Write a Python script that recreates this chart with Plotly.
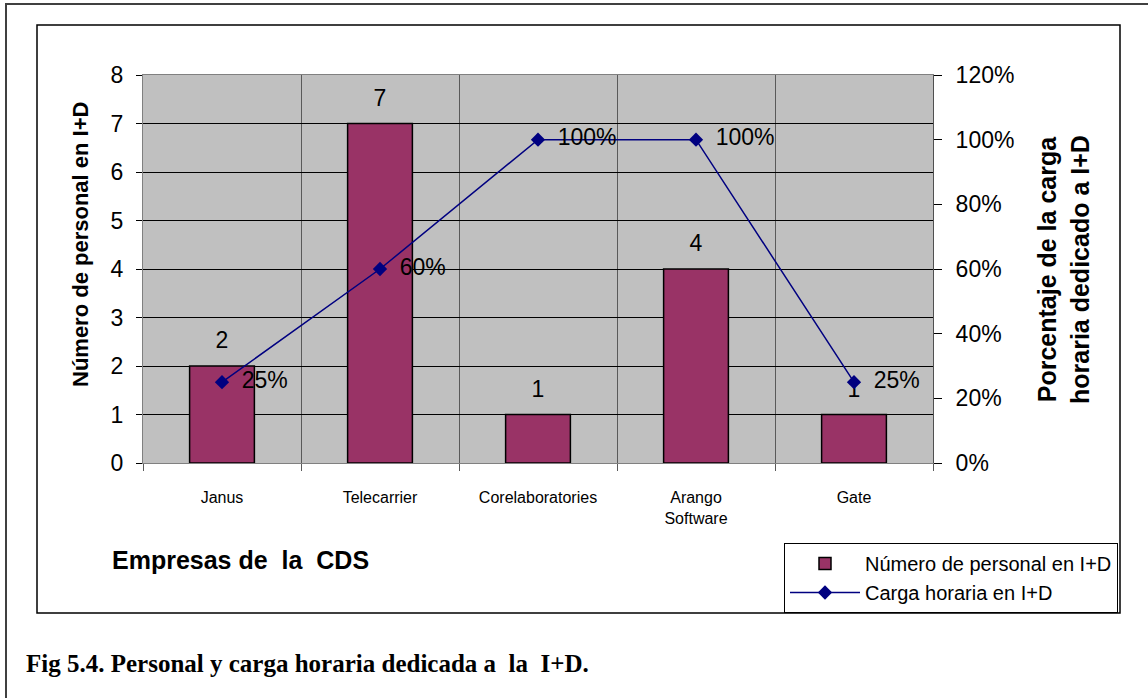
import plotly.graph_objects as go

W, H = 1148, 698

empresas = ["Janus", "Telecarrier", "Corelaboratories", "Arango<br>Software", "Gate"]
personal = [2, 7, 1, 4, 1]
carga = [0.25, 0.60, 1.00, 1.00, 0.25]
carga_labels = ["25%", "60%", "100%", "100%", "25%"]

FONT = "Liberation Sans, Arial, sans-serif"
BAR = "#993366"
NAVY = "#000080"


def px_x(v):
    return v / W


def px_y(v):
    return 1 - v / H


fig = go.Figure()
fig.add_trace(go.Bar(
    x=empresas, y=personal, name="Número de personal en I+D",
    marker=dict(color=BAR, line=dict(color="black", width=1.5)),
    width=0.41,
))
# bar value labels, lifted above the bars by an invisible marker
fig.add_trace(go.Scatter(
    x=empresas, y=personal, mode="markers+text", showlegend=False,
    marker=dict(size=18, opacity=0), text=[str(v) for v in personal],
    textposition="top center", textfont=dict(size=23, color="black"),
    cliponaxis=False, hoverinfo="skip",
))
fig.add_trace(go.Scatter(
    x=empresas, y=carga, name="Carga horaria en I+D", yaxis="y2",
    mode="lines+markers", line=dict(color=NAVY, width=1.5),
    marker=dict(symbol="diamond", size=11, color=NAVY),
    cliponaxis=False,
))
fig.add_trace(go.Scatter(
    x=empresas, y=carga, yaxis="y2", mode="markers+text", showlegend=False,
    marker=dict(size=30, opacity=0), text=carga_labels,
    textposition="middle right", textfont=dict(size=23, color="black"),
    cliponaxis=False, hoverinfo="skip",
))

fig.update_layout(
    width=W, height=H,
    margin=dict(l=0, r=0, t=0, b=0, autoexpand=False),
    paper_bgcolor="white",
    plot_bgcolor="#C0C0C0",
    font=dict(family=FONT, color="black"),
    showlegend=True,
    legend=dict(
        x=px_x(1118), y=px_y(613), xanchor="right", yanchor="bottom",
        bgcolor="white", bordercolor="black", borderwidth=1,
        font=dict(size=20, family=FONT), tracegroupgap=0,
        itemwidth=70,
    ),
    xaxis=dict(
        domain=[px_x(143), px_x(933)], automargin=False,
        tickson="boundaries", showgrid=True, gridcolor="#5a5a5a", gridwidth=1,
        ticks="outside", ticklen=7, tickcolor="#5a5a5a",
        tickfont=dict(size=16), ticklabelstandoff=20,
        showline=True, linecolor="#808080", mirror=True,
    ),
    yaxis=dict(
        domain=[px_y(463), px_y(75)], range=[0, 8], dtick=1, automargin=False,
        showgrid=True, gridcolor="black", gridwidth=1,
        ticks="outside", ticklen=6, tickcolor="black",
        tickfont=dict(size=23), ticklabelstandoff=8, zeroline=False,
        showline=True, linecolor="#808080",
    ),
    yaxis2=dict(
        overlaying="y", side="right", range=[0, 1.2], dtick=0.2, automargin=False,
        tickformat=".0%", showgrid=False, zeroline=False,
        ticks="outside", ticklen=8, tickcolor="black",
        tickfont=dict(size=23), ticklabelstandoff=9,
        showline=True, linecolor="#505050",
    ),
    annotations=[
        dict(text="<b>Número de personal en I+D</b>", textangle=-90,
             x=px_x(80), y=px_y(245), xref="paper", yref="paper",
             xanchor="center", yanchor="middle",
             showarrow=False, font=dict(size=22)),
        dict(text="<b>Porcentaje de la carga<br>horaria dedicado a I+D</b>", textangle=-90,
             x=px_x(1063), y=px_y(270), xref="paper", yref="paper",
             xanchor="center", yanchor="middle",
             showarrow=False, font=dict(size=25)),
        dict(text="<b>Empresas de  la  CDS</b>",
             x=px_x(110), y=px_y(560), xref="paper", yref="paper",
             xanchor="left", yanchor="middle", showarrow=False, font=dict(size=25)),
        dict(text="<b>Fig 5.4. Personal y carga horaria dedicada a  la  I+D.</b>",
             x=px_x(24), y=px_y(663), xref="paper", yref="paper",
             xanchor="left", yanchor="middle", showarrow=False,
             font=dict(size=25, family="Liberation Serif, Times New Roman, serif")),
    ],
    shapes=[
        dict(type="rect", xref="paper", yref="paper",
             x0=px_x(6), y0=px_y(760), x1=px_x(1220), y1=px_y(4),
             line=dict(color="#404040", width=2)),
        dict(type="rect", xref="paper", yref="paper",
             x0=px_x(37), y0=px_y(613), x1=px_x(1120), y1=px_y(25),
             line=dict(color="black", width=1.5)),
    ],
)

fig.write_html("out.html", config={"displayModeBar": False},
               post_script="document.body.style.margin='0';")
